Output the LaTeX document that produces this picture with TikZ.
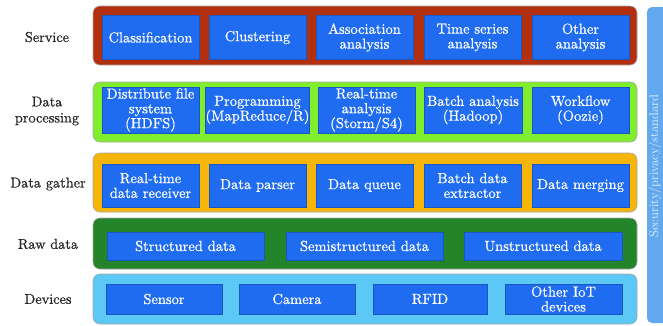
\documentclass[tikz,border=0pt]{standalone}
\usepackage{fontspec}
\newfontfamily\heavyserif{lmroman10-regular.otf}[FakeBold=0.6]
\begin{document}
\begin{tikzpicture}[x=1pt,y=-1pt,
  band/.style={draw=gray!70, line width=0.6pt, rounded corners=7pt},
  cell/.style={draw=boxblue!80!black, line width=0.4pt, fill=boxblue, text=white,
    align=center, inner sep=0pt, font=\heavyserif\fontsize{14.5}{14.8}\selectfont},
  layername/.style={align=center, text=black!85, font=\heavyserif\fontsize{14.3}{16}\selectfont}]
\definecolor{boxblue}{HTML}{1F6CF0}
\definecolor{servicered}{HTML}{B2300E}
\definecolor{proclime}{HTML}{80EE2C}
\definecolor{gatherorange}{HTML}{F6B50A}
\definecolor{rawgreen}{HTML}{23842A}
\definecolor{devblue}{HTML}{5CC8F6}
\definecolor{sidebar}{HTML}{62A8EE}

\useasboundingbox (0,0) rectangle (663,325);

% layer bands
\draw[band, fill=servicered]   (93,6)   rectangle (637,65);
\draw[band, fill=proclime]     (93,82)  rectangle (637,142);
\draw[band, fill=gatherorange] (93,153) rectangle (637,212);
\draw[band, fill=rawgreen]     (93,218) rectangle (637,269);
\draw[band, fill=devblue]      (93,274) rectangle (637,324);

% side bar
\fill[sidebar, rounded corners=5pt] (647,7) rectangle (672,323);
\node[rotate=90, text=white!85!sidebar, font=\fontsize{12.6}{14}\selectfont] (sec) at (655,166) {Security/privacy/standard};

% layer names
\node[layername] (lservice) at (47,37)  {Service};
\node[layername] (lproc)    at (47,111) {Data\\processing};
\node[layername] (lgather)  at (48,184) {Data gather};
\node[layername] (lraw)     at (48,244) {Raw data};
\node[layername] (ldev)     at (48,299) {Devices};

% service
\foreach \n/\cx/\t in {s1/150.5/Classification, s2/257.5/Clustering,
    s3/364.5/{Association\\analysis}, s4/472.5/{Time series\\analysis}, s5/580.5/{Other\\analysis}}
  \node[cell, minimum width=97pt, minimum height=44pt] (\n) at (\cx,37.5) {\t};

% data processing
\node[cell, minimum width=97pt,  minimum height=46pt] (p1) at (150.5,110) {Distribute file\\system\\(HDFS)};
\node[cell, minimum width=103pt, minimum height=46pt] (p2) at (257.5,110) {Programming\\(MapReduce/R)};
\node[cell, minimum width=97pt,  minimum height=46pt] (p3) at (366.5,110) {Real-time\\analysis\\(Storm/S4)};
\node[cell, minimum width=98pt,  minimum height=46pt] (p4) at (473,110)   {Batch analysis\\(Hadoop)};
\node[cell, minimum width=97pt,  minimum height=46pt] (p5) at (580.5,110) {Workflow\\(Oozie)};

% data gather
\foreach \n/\cx/\t in {g1/150.5/{Real-time\\data receiver}, g2/257.5/Data parser,
    g3/364.5/Data queue, g4/472.5/{Batch data\\extractor}, g5/580.5/Data merging}
  \node[cell, minimum width=97pt, minimum height=43pt] (\n) at (\cx,185.5) {\t};

% raw data
\node[cell, minimum width=157pt, minimum height=28pt] (r1) at (185.5,246) {Structured data};
\node[cell, minimum width=157pt, minimum height=28pt] (r2) at (364.5,246) {Semistructured data};
\node[cell, minimum width=158pt, minimum height=28pt] (r3) at (543,246)   {Unstructured data};

% devices
\node[cell, minimum width=116pt, minimum height=30pt] (d1) at (164,299) {Sensor};
\node[cell, minimum width=116pt, minimum height=30pt] (d2) at (297,299) {Camera};
\node[cell, minimum width=114pt, minimum height=30pt] (d3) at (430,299) {RFID};
\node[cell, minimum width=117pt, minimum height=30pt] (d4) at (563.5,299) {Other IoT\\devices};
\end{tikzpicture}
\end{document}
